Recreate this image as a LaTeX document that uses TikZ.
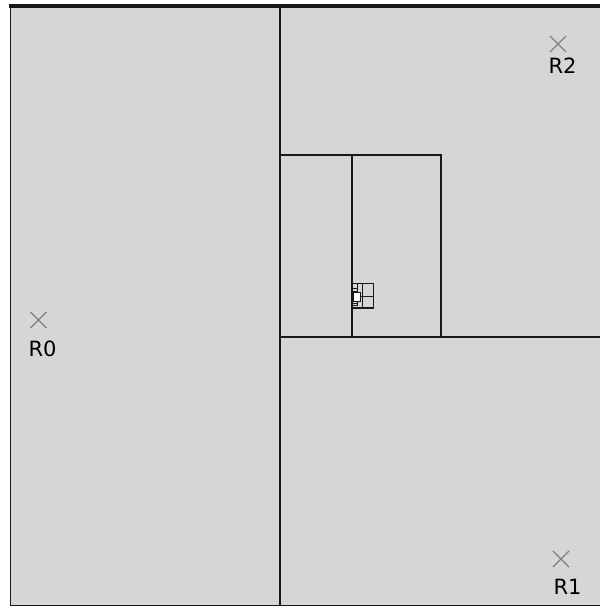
\documentclass[tikz,border=0pt]{standalone}
\usepackage{fontspec}
\setmainfont{DejaVu Sans}
\usetikzlibrary{shapes.misc}
\definecolor{cellgray}{RGB}{214,214,214}
\definecolor{markgray}{RGB}{128,128,128}
\definecolor{edgeblack}{RGB}{25,25,25}

\begin{document}
\begin{tikzpicture}[x=1pt, y=-1pt,
  cell/.style={draw=edgeblack, line width=1.3pt},
  site/.style={cross out, draw=markgray, line width=1.1pt, minimum size=15pt, inner sep=0pt},
  lbl/.style={font=\fontsize{21}{21}\selectfont, text=black, inner sep=0pt, anchor=north}]
  \useasboundingbox (0,0) rectangle (600,608);
  % plane and frame
  \fill[cellgray] (10,5) rectangle (600,606);
  \draw[edgeblack, line width=3.5pt] (9,6) -- (600,6);
  \draw[edgeblack, line width=1.8pt] (10.5,5) -- (10.5,606);
  \draw[edgeblack, line width=1.4pt] (10,605.3) -- (600,605.3);
  % subdivision
  \draw[cell] (280,5) -- (280,606);
  \draw[cell] (280,337) -- (600,337);
  \draw[cell] (280,155) rectangle (441,337);
  \draw[cell] (352,155) -- (352,337);
  \draw[cell] (352,283.3) rectangle (373.3,308);
  \draw[cell] (362.7,283.3) -- (362.7,308) (352,296.7) -- (373.3,296.7);
  \draw[cell, line width=0.9pt] (352,283.3) rectangle (357,288) (352,288) rectangle (357,291.5)
    (352,300) rectangle (357,303) (352,303) rectangle (357,305.5);
  \draw[cell, line width=0.9pt, fill=white] (353.5,292.5) rectangle (360,301);
  \draw[cell, line width=2pt] (352,308) -- (362.7,308);
  % sites
  \foreach \n/\cx/\cy/\lx/\ly in {0/38.5/320/42.5/340.5, 1/561/559/567.5/579.3, 2/558/44/562.5/57.5} {
    \node[site] (s\n) at (\cx,\cy) {};
    \node[lbl] (r\n) at (\lx,\ly) {R\n};
  }
\end{tikzpicture}
\end{document}
